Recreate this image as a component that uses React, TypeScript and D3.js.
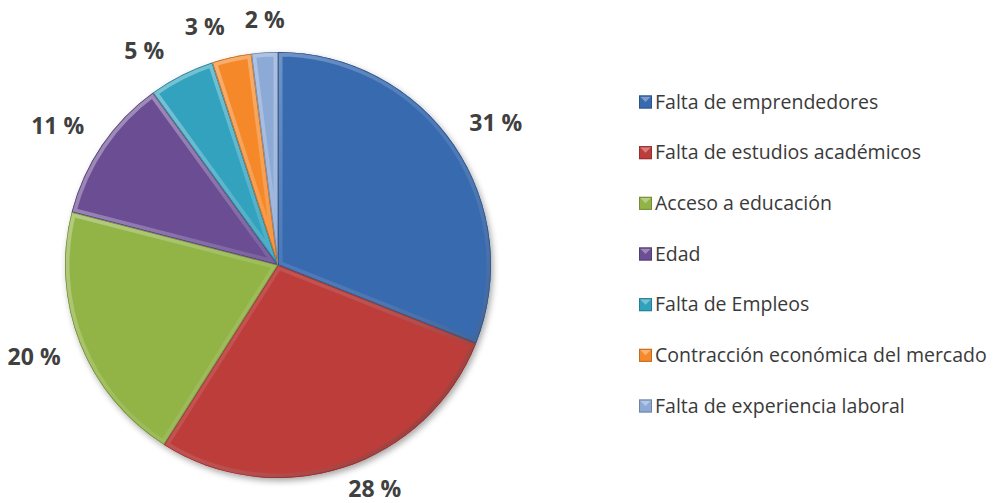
import React from 'react';
import * as d3 from 'd3';

const categories = [
  'Falta de emprendedores',
  'Falta de estudios académicos',
  'Acceso a educación',
  'Edad',
  'Falta de Empleos',
  'Contracción económica del mercado',
  'Falta de experiencia laboral',
];
const values = [31, 28, 20, 11, 5, 3, 2];
const colors = ['#386ab0', '#bd3d3a', '#92b447', '#6b4e93', '#31a2be', '#f5892b', '#8daad7'];
// small angular nudges (degrees) so the crowded labels spread like the original
const labelNudge = [1, -4.5, 1, -2, -5, -4.5, 0.5];

const W = 995;
const H = 503;
const cx = 278;
const cy = 265;
const R = 213;

type Item = { name: string; value: number; color: string };

export default function App() {
  const data: Item[] = categories.map((name, i) => ({ name, value: values[i], color: colors[i] }));

  const pie = d3.pie<Item>().sort(null).value(d => d.value);
  const arcs = pie(data);
  const arc = d3.arc<d3.PieArcDatum<Item>>().innerRadius(0).outerRadius(R);

  const legendY = d3.scalePoint<string>().domain(categories).range([102, 406]);

  // label box edge sits a fixed gap outside the rim
  const labelPos = (a: d3.PieArcDatum<Item>, i: number) => {
    const mid = (a.startAngle + a.endAngle) / 2 + (labelNudge[i] * Math.PI) / 180;
    const txt = `${a.data.value} %`;
    const hw = txt.length * 6.5;
    const hh = 12;
    const s = Math.sin(mid);
    const c = Math.cos(mid);
    const d = R + 19 + Math.abs(s) * hw + Math.abs(c) * hh;
    const y = Math.min(-c * d, H - cy - 14);
    return { x: s * d, y, txt };
  };

  return (
    <svg width={W} height={H} style={{ position: 'absolute', left: 0, top: 0, background: '#fff' }}>
      <defs>
        <filter id="shadow" x="-20%" y="-20%" width="140%" height="140%">
          <feDropShadow dx="2" dy="3" stdDeviation="3" floodColor="#000" floodOpacity="0.35" />
        </filter>
        <linearGradient id="bevel" gradientUnits="userSpaceOnUse" x1={-R} y1={-R} x2={R} y2={R}>
          <stop offset="0" stopColor="#fff" stopOpacity="0.45" />
          <stop offset="0.5" stopColor="#fff" stopOpacity="0.1" />
          <stop offset="1" stopColor="#000" stopOpacity="0.35" />
        </linearGradient>
        {arcs.map((a, i) => (
          <clipPath id={`clip${i}`} key={i}>
            <path d={arc(a) || ''} />
          </clipPath>
        ))}
      </defs>

      <g transform={`translate(${cx},${cy})`}>
        <g filter="url(#shadow)">
          {arcs.map((a, i) => (
            <path key={i} d={arc(a) || ''} fill={a.data.color} />
          ))}
        </g>
        {arcs.map((a, i) => (
          <g key={i} clipPath={`url(#clip${i})`}>
            <path d={arc(a) || ''} fill="none" stroke="url(#bevel)" strokeWidth={9} strokeLinejoin="round" />
            <path d={arc(a) || ''} fill="none" stroke={d3.color(a.data.color)!.darker(0.7).toString()} strokeWidth={1.5} />
          </g>
        ))}
        {arcs.map((a, i) => {
          const p = labelPos(a, i);
          return (
            <text
              key={i}
              x={p.x}
              y={p.y}
              dy="0.35em"
              textAnchor="middle"
              fontFamily="'Open Sans', sans-serif"
              fontWeight="bold"
              fontSize={23}
              fill="#404040"
            >
              {p.txt}
            </text>
          );
        })}
      </g>

      <g>
        {data.map((d, i) => {
          const y = legendY(d.name)!;
          return (
            <g key={i} transform={`translate(639,${y})`}>
              <rect x={0} y={-6.5} width={13} height={13} fill={d.color} />
              <polygon points="1,-5.5 12,-5.5 6.5,0" fill="#fff" opacity={0.35} />
              <rect x={0.5} y={-6} width={12} height={12} fill="none" stroke={d3.color(d.color)!.darker(0.7).toString()} strokeWidth={1} />
              <text
                x={16}
                y={0}
                dy="0.35em"
                fontFamily="'Open Sans', sans-serif"
                fontSize={19.5}
                fill="#3a3a3a"
              >
                {d.name}
              </text>
            </g>
          );
        })}
      </g>
    </svg>
  );
}
